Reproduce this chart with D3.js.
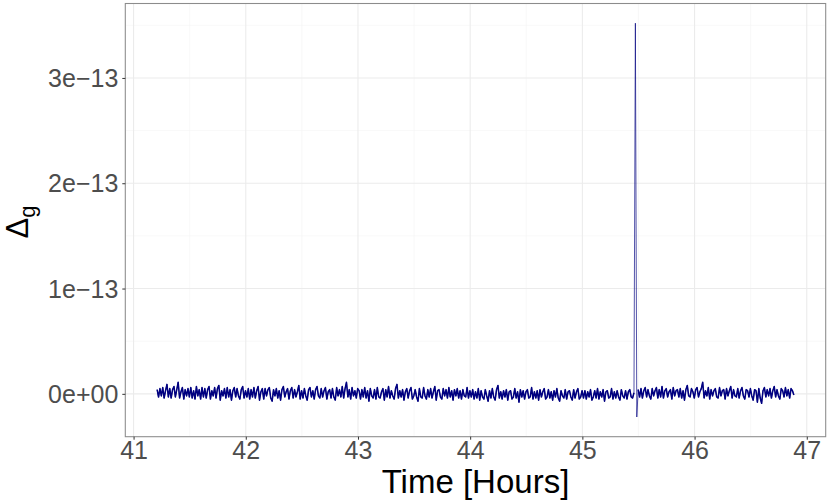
<!DOCTYPE html>
<html>
<head>
<meta charset="utf-8">
<script src="https://cdn.jsdelivr.net/npm/d3@7"></script>
<style>
  body { margin: 0; background: #fff; }
  svg { display: block; }
  text { font-family: "Liberation Sans", Arial, sans-serif; }
</style>
</head>
<body>
<svg id="chart" width="830" height="503"></svg>
<script>
// ---- data (values in units of 1e-15) ----
const valueUnit = 1e-15;
const sampleStep = 0.0125;          // hours between samples
const spikeTime = 45.4725;          // hours
const valuesBefore = [
  4, -3, 5, -2, 6, -4, 3, 9, -3, 5, -4, 4, 7, -3, 4, 11, -4, 2, 6, -5, 4, -2, 5, -3, 6, -4, 3, -5, 7, -2, 4, -5, 6, -3, 5, -4, 4, 7, -5, 3, -2, 6, -4, 5, 8, -6, 3, -2, 5, -4, 6, -3, 4, -6, 3, 6, -3, 5, -2, -5, 4, 7, -4, 3,
  -3, 5, -5, 4, -3, 6, -4, 3, 7, -6, 2, 5, -5, 5, -2, 4, 6, -4, -7, 4, -2, 5, -4, 3, -6, 4, 7, -3, 2, 5, -5, 3, 6, -4, 4, -3, 2, 8, -5, 3, -4, 5, -2, -6, 4, 6, -3, 3, -5, 4, 7, -2, -4, 5, -3, 3, 6, -5, 2, 4, -4, 5, -3, -6, 6, -2, 4, -3, 7, -4, 5, 11, -3, 4, -5, 6, -2, 3, -4, 5,
  3, -5, 4, -3, 6, -4, 3, -7, 5, -2, -4, 4, -5, 6, -3, -4, 2, 5, -6, 4, -3, 7, -4, 3, -2, -5, 5, 9, -4, 3, -3, 4, -6, 2, 5, -4, 3, 6, -5, -2, 4, -3, -7, 5, -3, -4, 6, -2, -5, 4, -3, 5, -4, 2, 7, -6, 3, 4, -3, -5, 5, -2, 4, -4, 6, -3, 3, -6, 4, -2, 5, -4, 3, -5, 4, -2, -3, 6, -4, 3,
  -3, 4, -5, 2, -4, 5, -6, 3, -3, -5, 4, -2, -7, 3, -4, 5, -3, -6, 4, 8, -4, 2, -5, 3, -3, 4, -6, 2, 3, -5, -3, 5, -4, 2, -8, 4, -3, 3, -5, 2, 4, -4, -3, 6, -5, 2, -4, 3, -6, 4, -3, 2, 5, -5, -3, 4, -4, 2, -6, 3, -3, 5, -4, -7, 3, -2, -4, 4, -5, 2, 3, -3, -6, 4, -4, 2, 5, -5, -3, 3,
  -4, 3, -5, 2, -3, 4, -6, -3, 3, -4, 5, -5, 2, -3, 4, -7, 2, 3, -4, -3, 5, -5, 2, -4, 3, -3, -6, 4, -2, -4, 3, -5, 2, 4, -3, -4, 1
];
const spikeValues = [352, -22];
const valuesAfter = [
  4, -3, 5, -4, 3, 6, -3, 4, -2, -5, 5, -2, 3, 6, -4, 4, -3, 7, -4, 3, 5, -3, 2, 4, -5, 6, -2, 3, 4, -3, 5, -4, 3, -6, 4, 8, -2, -3, 5, 2, -4, 4, 6, -3, 2, 5, 11, -4, 3, -2, 6, -5, 4, -2, 3, 5, -3, -4, 6, -2, 3, 4, -5, 5, -2, 3, 7, -4, 4, -2, -3, 5, -4, 3, 6, -2, -5, 4, 3, -3, 5, -2, -6, 4, 3, -8, 5, -4, -9, 3, 6, -3, 4, -2, 5, -4, 3, 7, -3, 4, -2, -5, 5, 3, -3, 6, -2, 4, -4, 5, 3, -1
];
const xTicks = [41, 42, 43, 44, 45, 46, 47];
const xMinor = [41.5, 42.5, 43.5, 44.5, 45.5, 46.5];
const yTicks = [0, 1e-13, 2e-13, 3e-13];
const yTickLabels = ["0e+00", "1e\u221213", "2e\u221213", "3e\u221213"];
const yMinor = [0.5e-13, 1.5e-13, 2.5e-13, 3.5e-13];

// build series
const before = valuesBefore.map((v, i) => ({ t: spikeTime - (valuesBefore.length - i) * sampleStep, v: v * valueUnit }));
const spike = spikeValues.map((v, i) => ({ t: spikeTime + i * sampleStep, v: v * valueUnit }));
const after = valuesAfter.map((v, i) => ({ t: spikeTime + (spikeValues.length + i) * sampleStep, v: v * valueUnit }));
const series = before.concat(spike, after);

// ---- layout ----
const svg = d3.select("#chart");
const panel = { left: 125.3, right: 825.7, top: 3.5, bottom: 436.7 };

const tExt = d3.extent(series, d => d.t);
const vExt = d3.extent(series, d => d.v);
const tPad = (tExt[1] - tExt[0]) * 0.05, vPad = (vExt[1] - vExt[0]) * 0.05;
const x = d3.scaleLinear().domain([tExt[0] - tPad, tExt[1] + tPad]).range([panel.left, panel.right]);
const y = d3.scaleLinear().domain([vExt[0] - vPad, vExt[1] + vPad]).range([panel.bottom, panel.top]);

const g = svg.append("g");
g.append("rect").attr("x", panel.left).attr("y", panel.top)
  .attr("width", panel.right - panel.left).attr("height", panel.bottom - panel.top).attr("fill", "#fff");

// minor grid
g.selectAll(".xminor").data(xMinor).enter().append("line")
  .attr("x1", d => x(d)).attr("x2", d => x(d)).attr("y1", panel.top).attr("y2", panel.bottom)
  .attr("stroke", "#F3F3F3").attr("stroke-width", 0.6);
g.selectAll(".yminor").data(yMinor).enter().append("line")
  .attr("y1", d => y(d)).attr("y2", d => y(d)).attr("x1", panel.left).attr("x2", panel.right)
  .attr("stroke", "#F3F3F3").attr("stroke-width", 0.6);
// major grid
g.selectAll(".xmajor").data(xTicks).enter().append("line")
  .attr("x1", d => x(d)).attr("x2", d => x(d)).attr("y1", panel.top).attr("y2", panel.bottom)
  .attr("stroke", "#EBEBEB").attr("stroke-width", 1.07);
g.selectAll(".ymajor").data(yTicks).enter().append("line")
  .attr("y1", d => y(d)).attr("y2", d => y(d)).attr("x1", panel.left).attr("x2", panel.right)
  .attr("stroke", "#EBEBEB").attr("stroke-width", 1.07);

// line: full series thin (spike), noise segments drawn denser
const line = d3.line().x(d => x(d.t)).y(d => y(d.v));
g.append("path").datum(series).attr("d", line)
  .attr("fill", "none").attr("stroke", "#000080").attr("stroke-width", 0.8)
  .attr("stroke-linejoin", "round").attr("stroke-opacity", 0.85);
[before, after].forEach(seg => {
  g.append("path").datum(seg).attr("d", line)
    .attr("fill", "none").attr("stroke", "#000080").attr("stroke-width", 1.5)
    .attr("stroke-linejoin", "round");
});

// border
g.append("rect").attr("x", panel.left).attr("y", panel.top)
  .attr("width", panel.right - panel.left).attr("height", panel.bottom - panel.top)
  .attr("fill", "none").attr("stroke", "#8C8C8C").attr("stroke-width", 1.07);

// axes
const xAxis = d3.axisBottom(x).tickValues(xTicks).tickSize(3).tickPadding(4).tickFormat(d3.format("d"));
const xa = svg.append("g").attr("transform", `translate(0,${panel.bottom})`).call(xAxis);
xa.select(".domain").remove();
xa.selectAll(".tick line").attr("stroke", "#333");
xa.selectAll(".tick text").attr("fill", "#4D4D4D").attr("font-size", 25)
  .attr("y", 0).attr("dy", null).attr("transform", "translate(0,22)");

const yAxis = d3.axisLeft(y).tickValues(yTicks).tickSize(3).tickPadding(4)
  .tickFormat((d, i) => yTickLabels[i]);
const ya = svg.append("g").attr("transform", `translate(${panel.left},0)`).call(yAxis);
ya.select(".domain").remove();
ya.selectAll(".tick line").attr("stroke", "#333");
ya.selectAll(".tick text").attr("fill", "#4D4D4D").attr("font-size", 25).attr("dy", "0.35em");

// titles
svg.append("text").attr("x", (panel.left + panel.right) / 2).attr("y", 493)
  .attr("text-anchor", "middle").attr("font-size", 33).attr("fill", "#000").text("Time [Hours]");

const yt = svg.append("text").attr("transform", `translate(28,${(panel.top + panel.bottom) / 2 + 2}) rotate(-90)`)
  .attr("text-anchor", "middle").attr("font-size", 31).attr("fill", "#000");
yt.append("tspan").text("\u0394");
yt.append("tspan").attr("dy", 7).attr("font-size", 22).text("g");
</script>
</body>
</html>
